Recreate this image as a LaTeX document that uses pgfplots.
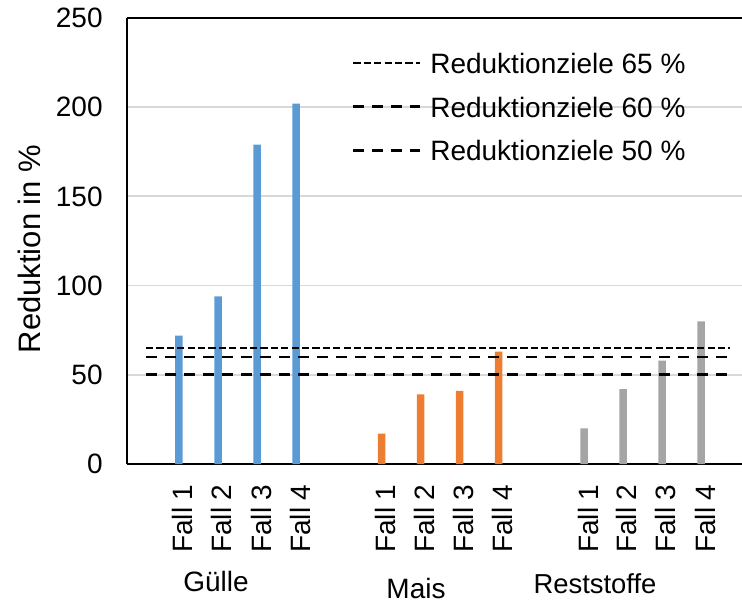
\documentclass[border=0pt]{standalone}
\usepackage{fontspec}
\setmainfont{Liberation Sans}
\usepackage{pgfplots}
\pgfplotsset{compat=1.18}
\definecolor{cblue}{HTML}{5B9BD5}
\definecolor{corange}{HTML}{ED7D31}
\definecolor{cgray}{HTML}{A5A5A5}
\definecolor{gridgray}{HTML}{D9D9D9}
\newcommand{\F}{\fontsize{14bp}{16.8bp}\selectfont}
\begin{document}
\begin{tikzpicture}
\begin{axis}[
  at={(0,0)}, anchor=south west,
  scale only axis, width=307.5bp, height=223bp,
  xmin=127, xmax=742, ymin=0, ymax=250,
  axis x line*=bottom, axis y line*=left,
  axis line style={black, line width=1.3bp},
  ytick={0,50,...,250},
  ymajorgrids, grid style={gridgray, line width=0.9bp},
  major tick length=0pt,
  xtick={178.8,218,257.2,296.2,381.5,420.5,459.5,498.5,584.2,623,662,701.2},
  xticklabels={Fall 1,Fall 2,Fall 3,Fall 4,Fall 1,Fall 2,Fall 3,Fall 4,Fall 1,Fall 2,Fall 3,Fall 4},
  xticklabel style={rotate=90, anchor=east, inner sep=0pt, text height=13.9bp, text depth=0pt, font=\F},
  xticklabel shift=10bp,
  yticklabel style={inner sep=0pt, font=\F},
  yticklabel shift=12bp,
  /pgf/number format/assume math mode=true,
  clip=false,
  legend style={draw=none, fill=none, inner sep=0pt, at={(axis cs:351.7,230.2)}, anchor=north west,
    font=\F, row sep=8.8bp, nodes={inner sep=0pt, text height=10bp, text depth=3bp}},
  legend cell align=left,
  legend image code/.code={\draw[#1] (0bp,1.8bp) -- (33.5bp,1.8bp); \path (37.8bp,0bp);},
]
\addplot[ybar, bar shift=0pt, bar width=7.5, fill=cblue, draw=none, forget plot]
  coordinates {(178.8,72) (218,94) (257.2,179) (296.2,202)};
\addplot[ybar, bar shift=0pt, bar width=7.5, fill=corange, draw=none, forget plot]
  coordinates {(381.5,17) (420.5,39) (459.5,41) (498.5,63)};
\addplot[ybar, bar shift=0pt, bar width=7.5, fill=cgray, draw=none, forget plot]
  coordinates {(584.2,20) (623,42) (662,58) (701.2,80)};
\addplot[black, line width=1.3bp, dash pattern=on 3.6bp off 1.6bp]
  coordinates {(146,65) (730,65)};
\addlegendentry{Reduktionziele 65 \%}
\addplot[black, line width=1.3bp, dash pattern=on 5.5bp off 4bp]
  coordinates {(146,60) (733,60)};
\addlegendentry{Reduktionziele 60 \%}
\addplot[black, line width=1.3bp, dash pattern=on 5.5bp off 4bp]
  coordinates {(146,50) (733,50)};
\addlegendentry{Reduktionziele 50 \%}
\draw[black, line width=1.3bp] (rel axis cs:0,1) -- (rel axis cs:1,1);
\end{axis}
\node[rotate=90, anchor=base, font=\fontsize{15.5bp}{18bp}\selectfont] at (-43.2bp,107.5bp) {Reduktion in \%};
\node[anchor=base, font=\F, inner sep=0pt] at (44.5bp,-63.85bp) {Gülle};
\node[anchor=base, font=\F, inner sep=0pt] at (144.5bp,-67bp) {Mais};
\node[anchor=base, font=\fontsize{13.7bp}{16.4bp}\selectfont, inner sep=0pt] at (234bp,-64.5bp) {Reststoffe};
\pgfresetboundingbox
\path[use as bounding box] (-63.5bp,-68.5bp) rectangle (307.5bp,232bp);
\end{tikzpicture}
\end{document}
